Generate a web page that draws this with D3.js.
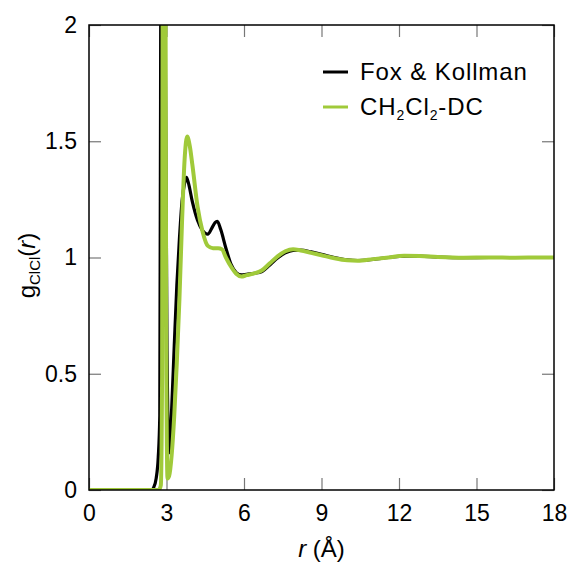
<!DOCTYPE html>
<html>
<head>
<meta charset="utf-8">
<script src="https://cdn.jsdelivr.net/npm/d3@7"></script>
<style>
  body { margin: 0; background: #fff; }
  svg text { font-family: "Liberation Sans", Arial, Helvetica, sans-serif; fill: #000; }
</style>
</head>
<body>
<svg width="570" height="565"></svg>
<script>
// r (Å) and g(r)
const rFox = [0, 2.4, 2.5, 2.6, 2.68, 2.74, 2.78, 2.82, 2.87, 2.92, 2.96, 3.02, 3.1, 3.2, 3.3, 3.4, 3.5, 3.6, 3.7, 3.77, 3.85, 4.0, 4.2, 4.4, 4.6, 4.75, 4.88, 4.97, 5.1, 5.3, 5.5, 5.7, 5.9, 6.1, 6.4, 6.7, 7.0, 7.3, 7.6, 7.9, 8.2, 8.6, 9.0, 9.5, 10.0, 10.4, 11.0, 11.6, 12.2, 12.8, 13.5, 14.5, 15.5, 16.5, 17.5, 18];
const gFox = [0, 0, 0.01, 0.05, 0.14, 0.32, 2.3, 5, 6, 3.5, 1.8, 0.6, 0.16, 0.35, 0.62, 0.88, 1.08, 1.24, 1.32, 1.345, 1.32, 1.24, 1.16, 1.115, 1.10, 1.125, 1.15, 1.155, 1.12, 1.04, 0.97, 0.935, 0.925, 0.928, 0.932, 0.94, 0.968, 0.998, 1.02, 1.031, 1.032, 1.024, 1.014, 1.0, 0.99, 0.987, 0.992, 1.0, 1.006, 1.006, 1.002, 0.999, 1.0, 1.0, 1.0, 1.0];

const rDC = [0, 2.7, 2.78, 2.83, 2.86, 2.9, 2.95, 2.99, 3.04, 3.1, 3.2, 3.3, 3.4, 3.5, 3.6, 3.7, 3.8, 3.9, 4.0, 4.2, 4.4, 4.6, 4.8, 5.0, 5.15, 5.3, 5.5, 5.7, 5.9, 6.1, 6.4, 6.7, 7.0, 7.3, 7.6, 7.9, 8.2, 8.6, 9.0, 9.5, 10.0, 10.4, 11.0, 11.6, 12.2, 12.8, 13.5, 14.5, 15.5, 16.5, 17.5, 18];
const gDC = [0, 0, 0.02, 0.5, 3, 7, 3, 0.6, 0.05, 0.06, 0.15, 0.32, 0.55, 0.82, 1.15, 1.42, 1.52, 1.48, 1.40, 1.22, 1.11, 1.05, 1.04, 1.04, 1.035, 1.0, 0.96, 0.93, 0.918, 0.924, 0.932, 0.945, 0.975, 1.005, 1.027, 1.036, 1.03, 1.02, 1.01, 0.997, 0.988, 0.986, 0.993, 1.0, 1.007, 1.006, 1.002, 0.999, 1.0, 0.999, 1.0, 1.0];

const xTicks = [0, 3, 6, 9, 12, 15, 18];
const yTicks = [0, 0.5, 1, 1.5, 2];
const seriesNames = ["Fox & Kollman", "CH2Cl2-DC"];
const seriesColors = ["#000000", "#a0ca3a"];

const svg = d3.select("svg"),
      margin = {top: 25, right: 16, bottom: 75, left: 89},
      width = 570 - margin.left - margin.right,
      height = 565 - margin.top - margin.bottom,
      g = svg.append("g").attr("transform", `translate(${margin.left},${margin.top})`);

const x = d3.scaleLinear().domain([0, 18]).range([0, width]);
const y = d3.scaleLinear().domain([0, 2]).range([height, 0]);

svg.append("defs").append("clipPath").attr("id", "clip")
  .append("rect").attr("width", width).attr("height", height);

const tickLen = 12;
// ticks inside the frame, on all four sides
g.append("g")
  .attr("transform", `translate(0,${height})`)
  .call(d3.axisBottom(x).tickValues(xTicks).tickSize(-tickLen).tickPadding(15).tickFormat(d3.format("d")))
  .call(a => a.select(".domain").remove())
  .call(a => a.selectAll("line").attr("stroke", "#777").attr("stroke-width", 1.2))
  .selectAll("text").style("font-size", "23px");

g.append("g")
  .call(d3.axisTop(x).tickValues(xTicks).tickSize(-tickLen).tickFormat(""))
  .call(a => a.select(".domain").remove())
  .call(a => a.selectAll("line").attr("stroke", "#777").attr("stroke-width", 1.2));

g.append("g")
  .call(d3.axisLeft(y).tickValues(yTicks).tickSize(-tickLen).tickPadding(12).tickFormat(d => d))
  .call(a => a.select(".domain").remove())
  .call(a => a.selectAll("line").attr("stroke", "#777").attr("stroke-width", 1.2))
  .selectAll("text").style("font-size", "23px");

g.append("g")
  .attr("transform", `translate(${width},0)`)
  .call(d3.axisRight(y).tickValues(yTicks).tickSize(-tickLen).tickFormat(""))
  .call(a => a.select(".domain").remove())
  .call(a => a.selectAll("line").attr("stroke", "#777").attr("stroke-width", 1.2));

const line = d3.line()
  .x(d => x(d[0]))
  .y(d => y(d[1]))
  .curve(d3.curveMonotoneX);

const curves = [d3.zip(rFox, gFox), d3.zip(rDC, gDC)];
const widths = [3.2, 4];

g.append("g").attr("clip-path", "url(#clip)")
  .selectAll("path")
  .data(curves)
  .join("path")
  .attr("d", line)
  .attr("fill", "none")
  .attr("stroke", (d, i) => seriesColors[i])
  .attr("stroke-width", (d, i) => widths[i])
  .attr("stroke-linejoin", "round");

// frame
g.append("rect")
  .attr("width", width).attr("height", height)
  .attr("fill", "none").attr("stroke", "#000").attr("stroke-width", 1.5);

// axis labels
const xl = svg.append("text")
  .attr("x", margin.left + width / 2)
  .attr("y", 557)
  .attr("text-anchor", "middle")
  .style("font-size", "24px");
xl.append("tspan").style("font-style", "italic").text("r");
xl.append("tspan").text(" (Å)");

const yl = svg.append("text")
  .attr("transform", `translate(35,${margin.top + height / 2 + 8}) rotate(-90)`)
  .attr("text-anchor", "middle")
  .style("font-size", "24px");
yl.append("tspan").text("g");
yl.append("tspan").attr("dy", 5).style("font-size", "15px").text("ClCl");
yl.append("tspan").attr("dy", -5).text("(");
yl.append("tspan").style("font-style", "italic").text("r");
yl.append("tspan").text(")");

// legend
const legend = svg.append("g").attr("transform", "translate(323,72)");
seriesNames.forEach((name, i) => {
  const row = legend.append("g").attr("transform", `translate(0,${i * 35})`);
  row.append("line").attr("x1", 0).attr("x2", 25)
    .attr("stroke", seriesColors[i]).attr("stroke-width", 3);
  const t = row.append("text").attr("x", 37).attr("y", 8)
    .style("font-size", "24px").style("letter-spacing", "0.9px");
  if (i === 0) {
    t.text(name);
  } else {
    t.append("tspan").text("CH");
    t.append("tspan").attr("dy", 5).style("font-size", "14px").text("2");
    t.append("tspan").attr("dy", -5).text("Cl");
    t.append("tspan").attr("dy", 5).style("font-size", "14px").text("2");
    t.append("tspan").attr("dy", -5).text("-DC");
  }
});
</script>
</body>
</html>
